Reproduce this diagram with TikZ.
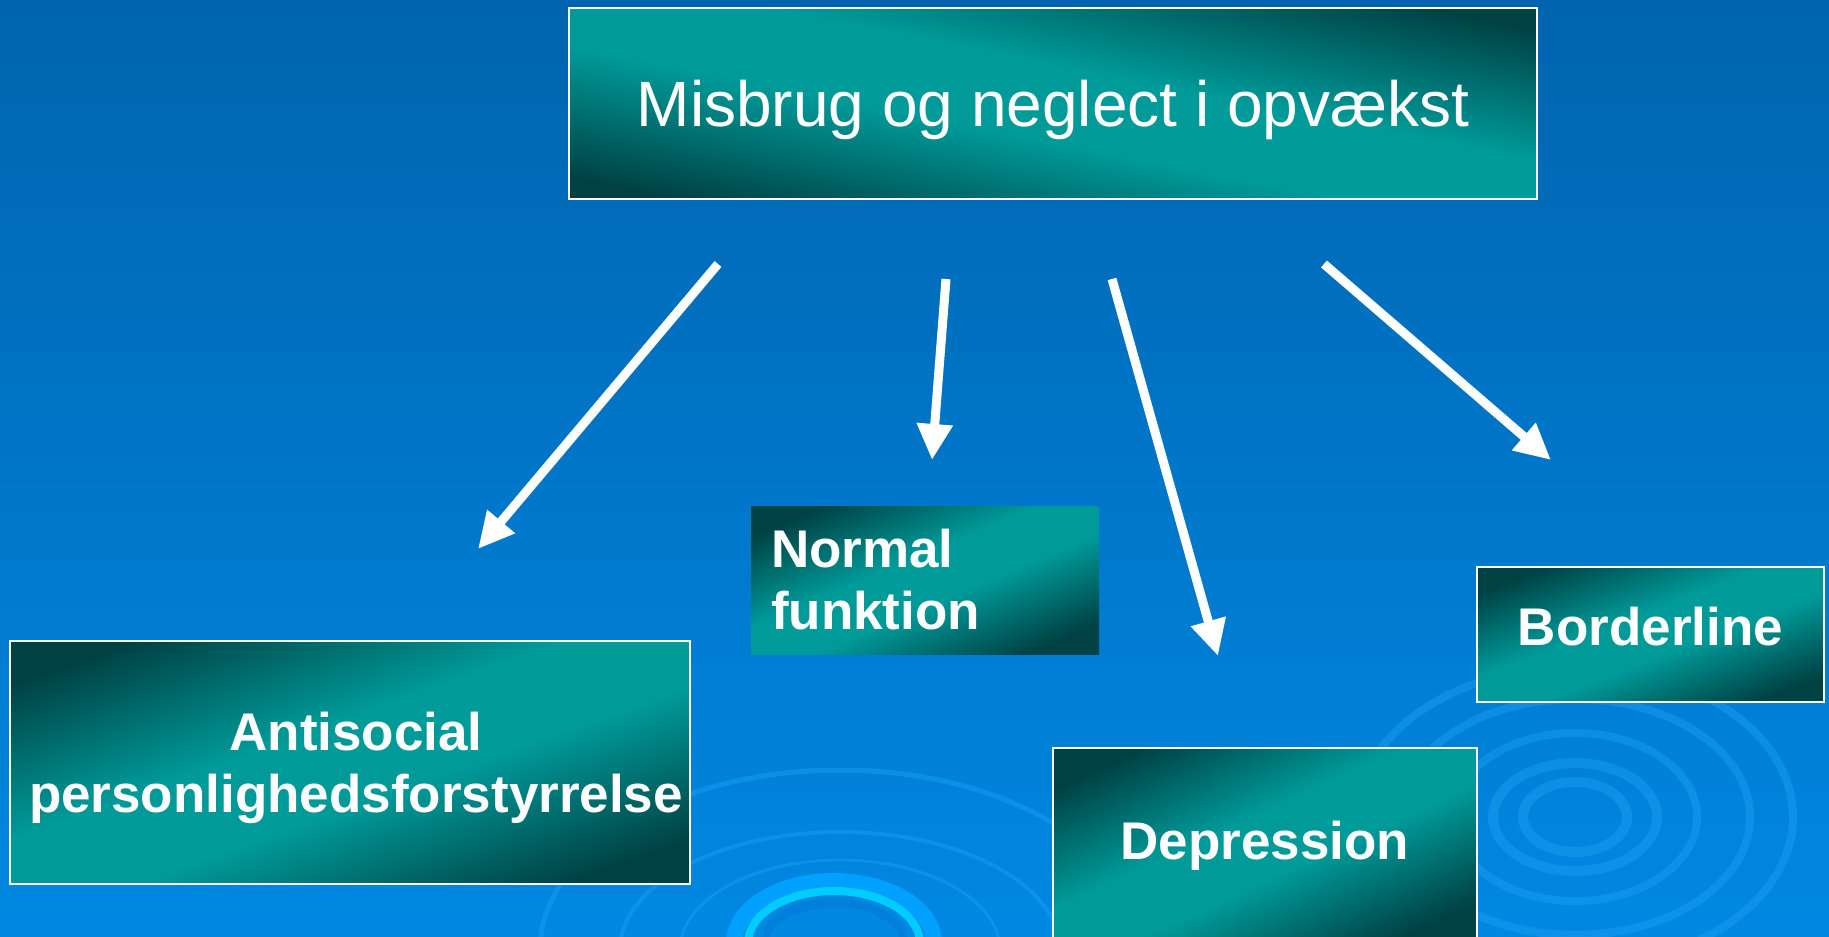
\documentclass[tikz,border=0pt]{standalone}
\usepackage{fontspec}
\setmainfont{Liberation Sans}
\usetikzlibrary{arrows.meta}
\definecolor{tdark}{RGB}{0,66,68}
\definecolor{tlight}{RGB}{0,154,153}
\definecolor{bgtop}{RGB}{0,100,174}
\definecolor{bgbot}{RGB}{0,136,226}
\definecolor{ripA}{RGB}{0,160,255}
\definecolor{ripB}{RGB}{0,204,255}
\definecolor{ripC}{RGB}{0,128,218}
\definecolor{ripF}{RGB}{30,160,245}
\pgfdeclareverticalshading{tealband}{100bp}{color(0bp)=(tdark); color(24bp)=(tdark); color(44bp)=(tlight); color(56bp)=(tlight); color(76bp)=(tdark); color(100bp)=(tdark)}
\begin{document}
\begin{tikzpicture}[x=1pt,y=-1pt,
  box/.style={shading=tealband, draw=white, line width=2pt, anchor=north west, inner sep=0pt, text=white, align=center},
  bigtxt/.style={font=\fontsize{53}{62}\selectfont\bfseries},
  arr/.style={white, line width=9pt, -{Triangle[length=36pt,width=34pt]}},
  ripple/.style={ripF, opacity=0.45}
  ]
\useasboundingbox (0,0) rectangle (1829,937);
\shade[top color=bgtop, bottom color=bgbot] (0,0) rectangle (1829,937);
\begin{scope}
\clip (0,0) rectangle (1829,937);
% ripple near bottom centre
\draw[ripple, line width=5pt] (840,950) ellipse [x radius=300, y radius=180];
\draw[ripple, line width=4pt] (840,950) ellipse [x radius=220, y radius=118];
\draw[ripple, line width=3pt] (840,950) ellipse [x radius=160, y radius=90];
\draw[ripA, line width=16pt] (834,943) ellipse [x radius=100, y radius=62];
\draw[ripB, line width=8pt] (834,943) ellipse [x radius=86, y radius=52];
\draw[ripC, line width=8pt] (834,943) ellipse [x radius=70, y radius=40];
% ripple at right
\draw[ripple, line width=10pt] (1575,817) ellipse [x radius=52, y radius=35];
\draw[ripple, line width=10pt] (1575,817) ellipse [x radius=82, y radius=54];
\draw[ripple, line width=8pt] (1575,817) ellipse [x radius=122, y radius=84];
\draw[ripple, line width=8pt] (1575,817) ellipse [x radius=175, y radius=118];
\draw[ripple, line width=8pt] (1575,817) ellipse [x radius=218, y radius=150];
\end{scope}

\node[box, minimum width=968pt, minimum height=191pt, shading angle=-11.2, text depth=0pt, font=\fontsize{64}{70}\selectfont] (top) at (568,7) {Misbrug og neglect i opvækst};
\node[box, bigtxt, minimum width=680pt, minimum height=243pt, shading angle=19.7, text depth=0pt] (anti) at (9,640) {\hspace*{12pt}Antisocial\\\hspace*{12pt}personlighedsforstyrrelse};
\node[box, bigtxt, draw=none, minimum width=348pt, minimum height=148pt, shading angle=23, text width=308pt, align=left] (norm) at (750,505) {Normal\\funktion};
\node[box, bigtxt, minimum width=347pt, minimum height=135pt, shading angle=21.3, text depth=16pt] (bord) at (1476,566) {Borderline};
\node[box, bigtxt, minimum width=424pt, minimum height=196pt, shading angle=24.8] (dep) at (1052,747) {Depression};

\coordinate (s1) at (718,264); \coordinate (e1) at (478,549);
\coordinate (s2) at (946,279); \coordinate (e2) at (932,460);
\coordinate (s3) at (1112,279); \coordinate (e3) at (1218,656);
\coordinate (s4) at (1324,264); \coordinate (e4) at (1551,460);
\draw[arr] (s1) -- (e1);
\draw[arr] (s2) -- (e2);
\draw[arr] (s3) -- (e3);
\draw[arr] (s4) -- (e4);
\end{tikzpicture}
\end{document}
